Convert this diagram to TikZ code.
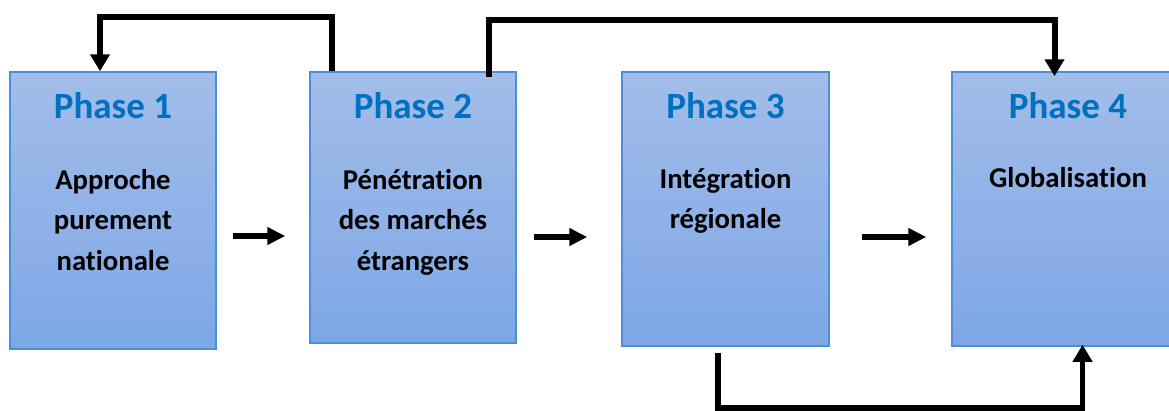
\documentclass[tikz,border=0pt]{standalone}
\usepackage{fontspec}
\setmainfont{Carlito}[Ligatures=NoCommon]
\usetikzlibrary{arrows.meta}
\definecolor{boxtop}{HTML}{A2BDE9}
\definecolor{boxbot}{HTML}{7EA7E6}
\definecolor{boxline}{HTML}{4A8EDC}
\definecolor{titleblue}{HTML}{0070C0}
\begin{document}
\begin{tikzpicture}[x=1pt,y=-1pt,
  phasebox/.style={draw=boxline, line width=1.5pt, top color=boxtop, bottom color=boxbot, minimum width=206pt, inner sep=0pt},
  title/.style={font=\fontsize{37}{44}\selectfont\bfseries, text=titleblue, inner sep=0pt, anchor=base},
  body/.style={font=\fontsize{28.7}{40.5}\selectfont\bfseries, align=center, inner sep=0pt, anchor=north},
  conn/.style={line width=6pt, line join=miter, -{Triangle[width=19pt,length=17pt]}},
  flow/.style={line width=6.5pt, -{Triangle[width=17pt,length=18pt]}}]
\useasboundingbox (0,0) rectangle (1169,410);
\clip (0,0) rectangle (1169,410);

% boxes
\node[phasebox, minimum height=277pt] (b1) at (113,210.5) {};
\node[phasebox, minimum height=271pt] (b2) at (413,207.5) {};
\node[phasebox, minimum height=274pt, minimum width=207pt] (b3) at (725.5,209) {};
\node[phasebox, minimum height=274pt, minimum width=232pt] (b4) at (1068,209) {};

% titles
\node[title] (t1) at (113,118) {Phase 1};
\node[title] (t2) at (413,118) {Phase 2};
\node[title] (t3) at (725.5,118) {Phase 3};
\node[title] (t4) at (1068,118) {Phase 4};

% body texts
\node[body] (x1) at (113,167) {\rule{0pt}{22pt}Approche\\purement\\nationale};
\node[body] (x2) at (413,167) {\rule{0pt}{22pt}Pénétration\\des marchés\\étrangers};
\node[body] (x3) at (725.5,166) {\rule{0pt}{22pt}Intégration\\régionale};
\node[body] (x4) at (1068,165) {\rule{0pt}{22pt}Globalisation};

% flow arrows
\draw[flow] ([xshift=16pt,yshift=-25.5pt]b1.east) -- ([xshift=-24pt,yshift=-28.5pt]b2.west);
\draw[flow] ([xshift=17pt,yshift=-29.5pt]b2.east) -- ([xshift=-34pt,yshift=-28pt]b3.west);
\draw[flow] ([xshift=32pt,yshift=-28pt]b3.east) -- ([xshift=-25pt,yshift=-28pt]b4.west);

% loops
\draw[conn] ([xshift=23pt]b2.north west) -- ++(0,-54) -| ([xshift=-13pt]b1.north);
\draw[conn] ([xshift=-28pt,yshift=-6pt]b2.north east) -- ++(0,-57.5) -| ([xshift=-13.5pt,yshift=-5pt]b4.north);
\draw[conn, line width=5.5pt] ([xshift=-7.5pt,yshift=-6pt]b3.south) -- ++(0,55) -| ([xshift=14.5pt,yshift=2pt]b4.south);
\end{tikzpicture}
\end{document}
